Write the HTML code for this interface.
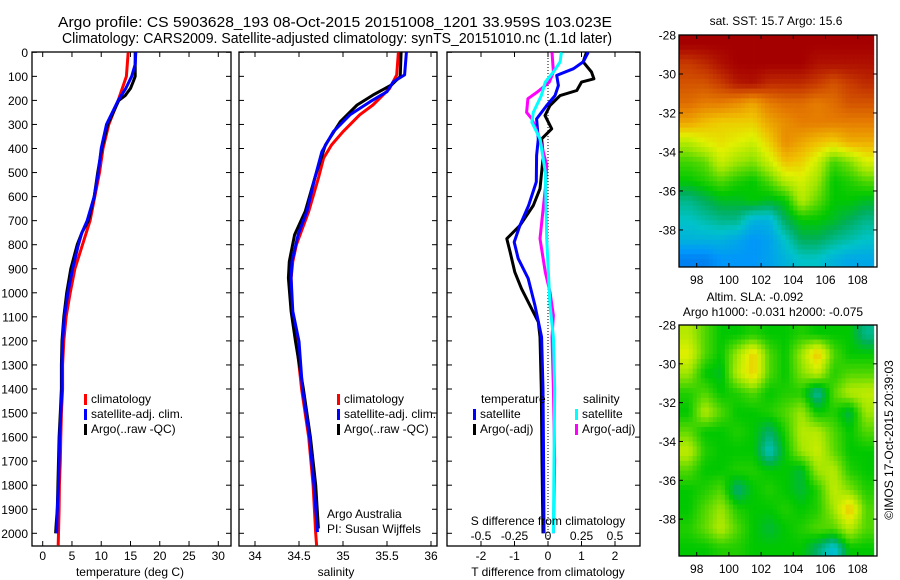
<!DOCTYPE html>
<html><head><meta charset="utf-8"><style>
html,body{margin:0;padding:0;background:#fff;}
svg{display:block;font-family:"Liberation Sans",sans-serif;}
</style></head><body>
<svg id="fig" width="900" height="580" viewBox="0 0 900 580" xmlns="http://www.w3.org/2000/svg">
<text x="335" y="27" font-size="15" text-anchor="middle" textLength="554" lengthAdjust="spacingAndGlyphs">Argo profile: CS 5903628_193 08-Oct-2015 20151008_1201 33.959S 103.023E</text>
<text x="337" y="43" font-size="15" text-anchor="middle" textLength="550" lengthAdjust="spacingAndGlyphs">Climatology: CARS2009. Satellite-adjusted climatology: synTS_20151010.nc (1.1d later)</text>
<g id="p1"></g>
<g id="p2"></g>
<g id="p3"></g>
<g id="m1"></g>
<g id="m2"></g>
<text x="776" y="25" font-size="12" text-anchor="middle">sat. SST: 15.7 Argo: 15.6</text>
<text x="755" y="301" font-size="12" text-anchor="middle">Altim. SLA: -0.092</text>
<text x="773" y="316" font-size="12" text-anchor="middle">Argo h1000: -0.031 h2000: -0.075</text>
<text transform="translate(893,440) rotate(-90)" font-size="12" text-anchor="middle">©IMOS 17-Oct-2015 20:39:03</text>
</svg>
<script>
// ---------- DATA ----------
const depthTicks=[0,100,200,300,400,500,600,700,800,900,1000,1100,1200,1300,1400,1500,1600,1700,1800,1900,2000];
const tempTicks=[0,5,10,15,20,25,30];
const salTicks=[34,34.5,35,35.5,36];
const salTickLabels=["34","34.5","35","35.5","36"];
const dTTicks=[-2,-1,0,1,2];
const dSTicks=[-0.5,-0.25,0,0.25,0.5];
const dSTickLabels=["-0.5","-0.25","0","0.25","0.5"];

const tClimDepth=[0,100,200,300,400,500,600,700,800,900,1000,1100,1200,1300,1400,1500,1600,1700,1800,1900,2000,2050];
const tClim=[14.6,14.3,12.9,11.3,10.3,9.7,8.9,8.1,6.8,5.5,4.7,4.0,3.6,3.4,3.4,3.2,3.1,3.0,2.85,2.8,2.7,2.65];
const tSatDepth=[0,50,100,150,200,300,400,500,600,700,750,800,900,1000,1100,1200,1300,1400,1500,1600,1700,1800,1900,2000];
const tSat=[15.9,15.8,15.2,14.2,12.9,10.9,10.0,9.5,8.8,7.6,6.7,6.1,5.1,4.3,3.7,3.4,3.3,3.3,3.1,2.9,2.8,2.7,2.5,2.4];
const tArgoDepth=[0,100,120,150,180,200,300,400,500,600,700,750,800,900,1000,1100,1200,1300,1400,1500,1600,1700,1800,1900,1960,2000];
const tArgo=[15.8,15.8,15.5,15.0,14.1,13.0,11.1,10.1,9.4,8.8,7.8,6.7,5.9,4.8,4.1,3.6,3.3,3.2,3.2,3.0,2.8,2.7,2.6,2.5,2.3,2.2];

const sClimDepth=[0,94,150,219,260,330,385,440,523,662,800,870,939,1077,1202,1300,1400,1600,1800,2000,2050];
const sClim=[35.63,35.61,35.53,35.34,35.19,35.0,34.87,34.78,34.72,34.61,34.47,34.43,34.41,34.42,34.47,34.5,34.53,34.61,34.66,34.69,34.7];
const sSatDepth=[0,94,123,164,205,260,330,413,523,662,759,870,939,1077,1202,1400,1600,1800,1995];
const sSat=[35.72,35.70,35.57,35.5,35.31,35.08,34.89,34.76,34.68,34.59,34.49,34.42,34.41,34.43,34.5,34.54,34.62,34.67,34.71];
const sArgoDepth=[0,101,136,178,219,288,385,523,662,759,870,939,1077,1202,1400,1600,1800,1980];
const sArgo=[35.66,35.65,35.55,35.34,35.16,34.97,34.8,34.68,34.57,34.45,34.39,34.38,34.41,34.46,34.55,34.63,34.69,34.72];

const dTArgoDepth=[0,40,82,110,124,159,180,221,263,318,360,429,567,637,720,775,830,914,983,1052,1121,1184,1400,1700,2000];
const dTArgo=[1.15,1.05,1.3,1.37,1.0,0.86,0.36,0.06,-0.09,0.11,-0.19,-0.14,-0.24,-0.44,-0.84,-1.23,-1.13,-0.99,-0.79,-0.54,-0.29,-0.24,-0.2,-0.18,-0.15];
const dTSatDepth=[0,40,68,96,138,180,221,277,360,429,539,637,720,789,858,941,1052,1184,1400,1700,2000];
const dTSat=[1.2,1.05,0.76,0.26,0.31,0.21,-0.04,-0.34,-0.29,-0.34,-0.35,-0.58,-0.84,-1.01,-0.89,-0.59,-0.39,-0.19,-0.15,-0.13,-0.12];
const dSSatDepth=[0,40,82,124,180,250,291,360,498,775,1052,1184,1400,1700,2000];
const dSSat=[0.1,0.09,0.04,-0.02,-0.05,-0.11,-0.12,-0.06,-0.02,-0.01,0.015,0.04,0.05,0.045,0.04];
const dSArgoDepth=[0,82,124,165,193,250,277,360,470,567,775,914,997,1094,1184,1400,1700,2000];
const dSArgo=[0.03,0.04,0.01,-0.08,-0.15,-0.16,-0.12,-0.06,-0.01,-0.02,-0.06,-0.02,0.015,0.04,0.03,0.04,0.05,0.04];

// map grids: rows lat -28.5 .. -39.5, cols lon 97.5 .. 108.5 (colour index 0..1)
const sstGrid=[
[0.95,0.95,0.95,0.95,0.95,0.95,0.95,0.95,0.95,0.95,0.95,0.95],
[0.88,0.9,0.93,0.95,0.95,0.95,0.95,0.95,0.93,0.93,0.93,0.93],
[0.85,0.85,0.88,0.92,0.93,0.9,0.9,0.9,0.88,0.85,0.88,0.9],
[0.82,0.8,0.8,0.78,0.75,0.8,0.82,0.82,0.8,0.82,0.85,0.85],
[0.75,0.72,0.7,0.7,0.7,0.75,0.78,0.8,0.8,0.8,0.8,0.8],
[0.62,0.66,0.68,0.66,0.64,0.7,0.78,0.75,0.72,0.7,0.74,0.74],
[0.54,0.56,0.64,0.6,0.58,0.64,0.72,0.7,0.64,0.54,0.58,0.65],
[0.5,0.52,0.55,0.52,0.5,0.55,0.62,0.65,0.6,0.5,0.52,0.55],
[0.42,0.45,0.48,0.48,0.5,0.48,0.5,0.62,0.56,0.5,0.5,0.48],
[0.38,0.4,0.42,0.42,0.35,0.35,0.45,0.5,0.5,0.48,0.45,0.42],
[0.35,0.35,0.35,0.33,0.3,0.32,0.38,0.45,0.45,0.42,0.4,0.38],
[0.27,0.27,0.3,0.3,0.3,0.32,0.35,0.38,0.38,0.35,0.33,0.33]];
const slaGrid=[
[0.62,0.55,0.5,0.5,0.52,0.5,0.5,0.52,0.5,0.5,0.5,0.42],
[0.66,0.55,0.5,0.6,0.7,0.55,0.5,0.6,0.72,0.55,0.5,0.5],
[0.6,0.5,0.48,0.62,0.7,0.55,0.5,0.58,0.63,0.52,0.55,0.55],
[0.52,0.55,0.5,0.52,0.55,0.5,0.52,0.52,0.4,0.55,0.62,0.63],
[0.5,0.62,0.55,0.5,0.5,0.52,0.55,0.6,0.5,0.52,0.46,0.6],
[0.56,0.5,0.5,0.52,0.5,0.44,0.52,0.62,0.62,0.55,0.5,0.55],
[0.63,0.52,0.5,0.5,0.5,0.38,0.5,0.6,0.64,0.56,0.5,0.5],
[0.55,0.5,0.5,0.52,0.52,0.5,0.5,0.47,0.6,0.62,0.52,0.5],
[0.5,0.52,0.55,0.43,0.5,0.52,0.5,0.47,0.52,0.63,0.58,0.52],
[0.5,0.55,0.6,0.52,0.5,0.5,0.52,0.5,0.52,0.6,0.72,0.55],
[0.52,0.56,0.62,0.55,0.5,0.47,0.5,0.52,0.55,0.55,0.62,0.55],
[0.5,0.5,0.52,0.52,0.5,0.5,0.5,0.5,0.44,0.36,0.5,0.5]];
const latTicks=[-28,-30,-32,-34,-36,-38];
const lonTicks=[98,100,102,104,106,108];

// ---------- DRAW ----------
const NS='http://www.w3.org/2000/svg';
function mk(parent,tag,attrs,txt){const e=document.createElementNS(NS,tag);for(const k in attrs)e.setAttribute(k,attrs[k]);if(txt!==undefined)e.textContent=txt;parent.appendChild(e);return e;}
const yTop=52.3, yPer=0.2405, yBot=546;
const yD=d=>yTop+d*yPer;

function panel(g,x0,x1,name){
  const f=mk(g,'rect',{x:x0,y:52,width:x1-x0,height:yBot-52,fill:'none',stroke:'#000','stroke-width':1.3});
  
  
}
function yTicks(g,x0,x1,labels){
  depthTicks.forEach(d=>{
    const y=yD(d);
    const t=mk(g,'line',{x1:x0,x2:x0+5,y1:y,y2:y,stroke:'#000'});
    
    
    mk(g,'line',{x1:x1-5,x2:x1,y1:y,y2:y,stroke:'#000'});
    if(labels){const l=mk(g,'text',{x:x0-4,y:y+4.5,'font-size':12,'text-anchor':'end'},String(d));
      
      }
  });
}
function xTicks(g,vals,labels,sx,labY){
  vals.forEach((v,i)=>{
    const x=sx(v);
    mk(g,'line',{x1:x,x2:x,y1:52,y2:57,stroke:'#000'});
    const t=mk(g,'line',{x1:x,x2:x,y1:yBot-5,y2:yBot,stroke:'#000'});
    
    
    if(labY){const l=mk(g,'text',{x:x,y:labY,'font-size':12,'text-anchor':'middle'},labels[i]);
      
      }
  });
}
function line(g,xs,ds,sx,color,name){
  const pts=xs.map((v,i)=>sx(v).toFixed(1)+','+yD(ds[i]).toFixed(1)).join(' ');
  const p=mk(g,'polyline',{points:pts,fill:'none',stroke:color,'stroke-width':3,'stroke-linejoin':'round'});
  
  
}
function legend(g,x,y,color,label,name){
  mk(g,'rect',{x:x,y:y-9,width:3,height:11,fill:color});
  const t=mk(g,'text',{x:x+7,y:y,'font-size':12},label);
  
  
}

// Panel 1 temperature
const p1=document.getElementById('p1');
const sxT=v=>42.7+5.853*v;
panel(p1,32,231,'temperature-panel');
yTicks(p1,32,231,true);
xTicks(p1,tempTicks,tempTicks.map(String),sxT,560);
line(p1,tClim,tClimDepth,sxT,'#f00','temp-climatology-line');
line(p1,tArgo,tArgoDepth,sxT,'#000','temp-argo-line');
line(p1,tSat,tSatDepth,sxT,'#00f','temp-satellite-line');
legend(p1,84,403,'#f00','climatology','legend-climatology');
legend(p1,84,418,'#00f','satellite-adj. clim.','legend-satellite');
legend(p1,84,433,'#000','Argo(..raw -QC)','legend-argo');
mk(p1,'text',{x:130,y:576,'font-size':12,'text-anchor':'middle'},'temperature (deg C)');

// Panel 2 salinity
const p2=document.getElementById('p2');
const sxS=v=>255+88*(v-34);
panel(p2,239,437,'salinity-panel');
yTicks(p2,239,437,false);
xTicks(p2,salTicks,salTickLabels,sxS,560);
line(p2,sClim,sClimDepth,sxS,'#f00','sal-climatology-line');
line(p2,sArgo,sArgoDepth,sxS,'#000','sal-argo-line');
line(p2,sSat,sSatDepth,sxS,'#00f','sal-satellite-line');
legend(p2,337,403,'#f00','climatology','legend-climatology-2');
legend(p2,337,418,'#00f','satellite-adj. clim.','legend-satellite-2');
legend(p2,337,433,'#000','Argo(..raw -QC)','legend-argo-2');
mk(p2,'text',{x:327,y:518,'font-size':12},'Argo Australia');
mk(p2,'text',{x:327,y:533,'font-size':12},'PI: Susan Wijffels');
mk(p2,'text',{x:336,y:576,'font-size':12,'text-anchor':'middle'},'salinity');

// Panel 3 differences
const p3=document.getElementById('p3');
const sxdT=v=>548+33.5*v;
const sxdS=v=>548+134*v;
panel(p3,447,640,'difference-panel');
yTicks(p3,447,640,false);
xTicks(p3,dTTicks,dTTicks.map(String),sxdT,560);
mk(p3,'line',{x1:548,x2:548,y1:52,y2:yBot,stroke:'#000','stroke-dasharray':'1,2'});
line(p3,dTArgo,dTArgoDepth,sxdT,'#000','dT-argo-line');
line(p3,dTSat,dTSatDepth,sxdT,'#00f','dT-satellite-line');
line(p3,dSArgo,dSArgoDepth,sxdS,'#f0f','dS-argo-line');
line(p3,dSSat,dSSatDepth,sxdS,'#0ff','dS-satellite-line');
dSTicks.forEach((v,i)=>{const l=mk(p3,'text',{x:sxdS(v),y:540,'font-size':12,'text-anchor':'middle'},dSTickLabels[i]);
  
  });
mk(p3,'text',{x:548,y:525,'font-size':12,'text-anchor':'middle'},'S difference from climatology');
mk(p3,'text',{x:548,y:576,'font-size':12,'text-anchor':'middle'},'T difference from climatology');
mk(p3,'text',{x:481,y:403,'font-size':12},'temperature');
mk(p3,'text',{x:583,y:403,'font-size':12},'salinity');
legend(p3,473,418,'#00f','satellite','legend-dT-satellite');
legend(p3,473,433,'#000','Argo(-adj)','legend-dT-argo');
legend(p3,575,418,'#0ff','satellite','legend-dS-satellite');
legend(p3,575,433,'#f0f','Argo(-adj)','legend-dS-argo');

// Maps
const cstops=[[0.2,[0,80,220]],[0.3,[0,150,250]],[0.38,[0,195,200]],[0.45,[0,175,90]],[0.5,[0,200,0]],[0.6,[160,230,0]],[0.66,[225,240,0]],[0.72,[240,190,0]],[0.8,[230,125,0]],[0.88,[200,60,0]],[0.95,[165,0,0]]];
function cmap(v){
  if(v<=cstops[0][0])return cstops[0][1];
  for(let i=1;i<cstops.length;i++){if(v<=cstops[i][0]){const a=cstops[i-1],b=cstops[i],t=(v-a[0])/(b[0]-a[0]);return a[1].map((c,k)=>Math.round(c+(b[1][k]-c)*t));}}
  return cstops[cstops.length-1][1];
}
function sample(grid,r,c){
  const R=grid.length,C=grid[0].length;
  r=Math.max(0,Math.min(R-1,r));c=Math.max(0,Math.min(C-1,c));
  const r0=Math.floor(r),c0=Math.floor(c),r1=Math.min(R-1,r0+1),c1=Math.min(C-1,c0+1),fr=r-r0,fc=c-c0;
  return grid[r0][c0]*(1-fr)*(1-fc)+grid[r0][c1]*(1-fr)*fc+grid[r1][c0]*fr*(1-fc)+grid[r1][c1]*fr*fc;
}
function drawMap(g,grid,y0,y1,name){
  const x0=679,x1=877;
  const lonMin=96.9,lonMax=109.2,latTop=-28,latBot=-39.9;
  const sx=lon=>x0+(lon-lonMin)/(lonMax-lonMin)*(x1-x0);
  const sy=lat=>y0+(latTop-lat)/(latTop-latBot)*(y1-y0);
  const N=4,R=grid.length,C=grid[0].length;
  for(let i=0;i<R*N;i++){for(let j=0;j<C*N;j++){
    const v=sample(grid,(i+0.5)/N-0.5,(j+0.5)/N-0.5);
    const xa=sx(97+j/N), xb=sx(97+(j+1)/N), ya=sy(-28-i/N), yb=sy(-28-(i+1)/N);
    const xl=Math.max(x0,xa), xr=Math.min(x1,xb), yt=Math.max(y0,ya), ybb=Math.min(y1,yb);
    if(xr<=xl||ybb<=yt)continue;
    const c=cmap(v);
    const r=mk(g,'rect',{x:xl.toFixed(2),y:yt.toFixed(2),width:(xr-xl+0.4).toFixed(2),height:(ybb-yt+0.4).toFixed(2),fill:`rgb(${c[0]},${c[1]},${c[2]})`});
    
    
  }}
  for(let i=0;i<R*N;i++){const v=sample(grid,(i+0.5)/N-0.5,0);const c=cmap(v);
    const ya=Math.max(y0,sy(-28-i/N)),yb=Math.min(y1,sy(-28-(i+1)/N));
    if(yb>ya)mk(g,'rect',{x:x0,y:ya,width:sx(97)-x0+0.4,height:yb-ya+0.4,fill:`rgb(${c[0]},${c[1]},${c[2]})`});}
  const f=mk(g,'rect',{x:x0,y:y0,width:x1-x0,height:y1-y0,fill:'none',stroke:'#000','stroke-width':1.3});
  
  
  latTicks.forEach(l=>{const y=sy(l);mk(g,'line',{x1:x0,x2:x0+4,y1:y,y2:y,stroke:'#000'});mk(g,'line',{x1:x1-4,x2:x1,y1:y,y2:y,stroke:'#000'});
    const t=mk(g,'text',{x:x0-3,y:y+4.5,'font-size':12,'text-anchor':'end'},String(l));
    
    });
  lonTicks.forEach(l=>{const x=sx(l);mk(g,'line',{x1:x,x2:x,y1:y0,y2:y0+4,stroke:'#000'});mk(g,'line',{x1:x,x2:x,y1:y1-4,y2:y1,stroke:'#000'});
    const t=mk(g,'text',{x:x,y:y1+17,'font-size':12,'text-anchor':'middle'},String(l));
    
    });
}
drawMap(document.getElementById('m1'),sstGrid,35,267,'sst-map');
drawMap(document.getElementById('m2'),slaGrid,325,556,'sla-map');
</script>
</body></html>
